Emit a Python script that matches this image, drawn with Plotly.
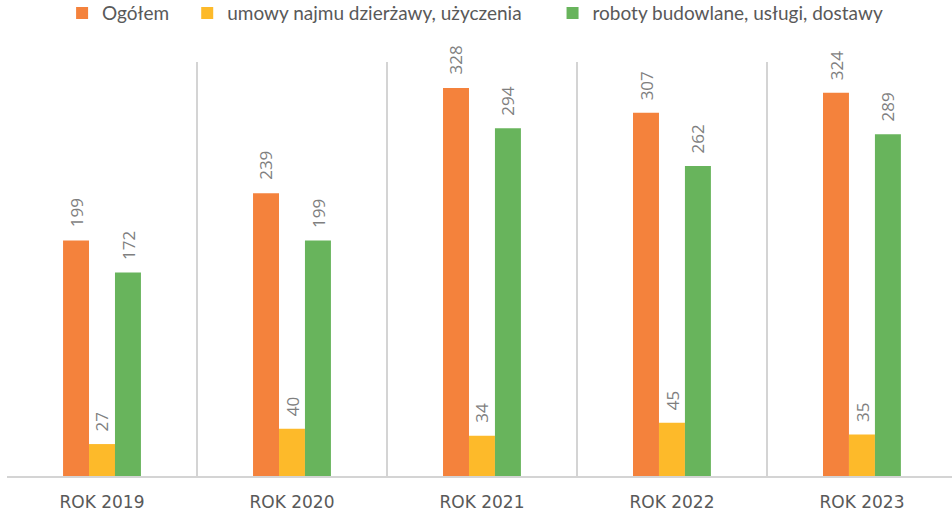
import plotly.graph_objects as go

categories = ["ROK 2019", "ROK 2020", "ROK 2021", "ROK 2022", "ROK 2023"]
ogolem = [199, 239, 328, 307, 324]
umowy = [27, 40, 34, 45, 35]
roboty = [172, 199, 294, 262, 289]

series = [
    ("Ogółem", ogolem, "#F4823C", "legend", 0.0583),
    ("umowy najmu dzierżawy, użyczenia", umowy, "#FDBA2A", "legend2", 0.1907),
    ("roboty budowlane, usługi, dostawy", roboty, "#68B45C", "legend3", 0.5773),
]

BARGAP = 0.59
bar_w = (1 - BARGAP) / len(series)

fig = go.Figure()
layout_legends = {}
for k, (name, vals, color, leg, lx) in enumerate(series):
    fig.add_trace(go.Bar(
        x=categories, y=vals, name=name, legend=leg,
        marker=dict(color=color, line=dict(width=0)),
        hoverinfo="skip",
    ))
    layout_legends[leg] = dict(
        x=lx, xanchor="left", y=1.118, yanchor="middle",
        font=dict(family="Lato", size=19, color="#595959"),
        bgcolor="rgba(0,0,0,0)", borderwidth=0,
    )
    off = (k - (len(series) - 1) / 2) * bar_w
    for i, v in enumerate(vals):
        fig.add_annotation(
            x=i + off, y=v, xref="x", yref="y",
            text=str(v), showarrow=False, textangle=-90,
            xanchor="center", yanchor="bottom", yshift=11,
            font=dict(family="Open Sans", size=17, color="#7F7F7F"),
        )

fig.update_layout(
    width=952, height=514,
    margin=dict(l=7, r=0, t=62, b=38, autoexpand=False),
    paper_bgcolor="white", plot_bgcolor="white",
    barmode="group", bargap=BARGAP, bargroupgap=0,
    showlegend=True,
    xaxis=dict(
        type="category", range=[-0.5, 4.474], automargin=False,
        tickson="boundaries", showgrid=True, gridcolor="#D4D4D4", gridwidth=2,
        showline=True, linecolor="#D4D4D4", linewidth=2,
        ticks="", ticklabelstandoff=10,
        tickfont=dict(family="DejaVu Sans", size=17, color="#595959"),
    ),
    yaxis=dict(range=[0, 350], showgrid=False, showticklabels=False, zeroline=False,
               showline=False, ticks="", automargin=False),
    **layout_legends,
)

fig.write_html("out.html", config=dict(displayModeBar=False),
               post_script="document.body.style.margin='0';document.body.style.overflow='hidden';")
